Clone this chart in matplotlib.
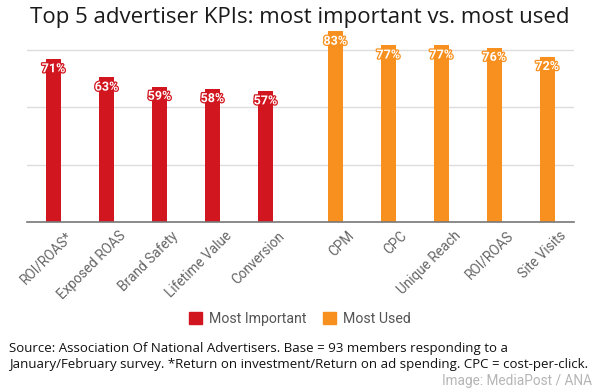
import matplotlib.pyplot as plt
import matplotlib.patheffects as pe
import matplotlib.transforms as mtrans
from matplotlib.patches import Patch

# data
important_labels = ["ROI/ROAS*", "Exposed ROAS", "Brand Safety", "Lifetime Value", "Conversion"]
important_values = [71, 63, 59, 58, 57]
used_labels = ["CPM", "CPC", "Unique Reach", "ROI/ROAS", "Site Visits"]
used_values = [83, 77, 77, 76, 72]

red = "#d1161f"
orange = "#f7901e"

fig = plt.figure(figsize=(6, 3.9), dpi=100)
ax = fig.add_axes([0.045, 0.431, 0.912, 0.5])

gap = 0.32  # extra space between the two groups
x_imp = list(range(len(important_values)))
x_used = [len(important_values) + gap + i for i in range(len(used_values))]

w = 0.28
b1 = ax.bar(x_imp, important_values, width=w, color=red, zorder=3)
b2 = ax.bar(x_used, used_values, width=w, color=orange, zorder=3)

for bars, vals, col in [(b1, important_values, red), (b2, used_values, orange)]:
    for bar, v in zip(bars, vals):
        ax.annotate(f"{v}%", (bar.get_x() + bar.get_width() / 2, v),
                    xytext=(0, -7), textcoords="offset points",
                    ha="center", va="center", fontsize=9, fontweight="bold",
                    color="white", family="Roboto", zorder=4,
                    path_effects=[pe.withStroke(linewidth=1.8, foreground=col)])

ax.set_xlim(-0.5, 9.83)
ax.set_ylim(0, 85)
ax.set_yticks([25, 50, 75])
ax.set_yticklabels([])
ax.tick_params(axis="y", length=0)
ax.grid(axis="y", color="#dddddd", linewidth=1, zorder=0)

ax.set_xticks(x_imp + x_used)
ax.set_xticklabels(important_labels + used_labels, rotation=45, ha="right",
                   rotation_mode="anchor", fontsize=9.8, color="#666666", family="Roboto")
ax.tick_params(axis="x", length=0, pad=5)
shift = mtrans.ScaledTranslation(12 / 100, 0, fig.dpi_scale_trans)
for lab in ax.get_xticklabels():
    lab.set_transform(lab.get_transform() + shift)

for s in ["top", "right", "left"]:
    ax.spines[s].set_visible(False)
ax.spines["bottom"].set_color("#777777")
ax.spines["bottom"].set_linewidth(1.2)
ax.spines["bottom"].set_zorder(5)

fig.text(0.5, 0.955, "Top 5 advertiser KPIs: most important vs. most used",
         ha="center", va="center", fontsize=16, color="#1a1a1a", family="Open Sans")

handles = [Patch(color=red, label="Most Important"), Patch(color=orange, label="Most Used")]
fig.legend(handles=handles, loc="center", bbox_to_anchor=(0.5, 0.183), ncol=2,
           frameon=False, handlelength=0.9, handleheight=0.9, handletextpad=0.5,
           columnspacing=1.2, prop={"family": "Roboto", "size": 10.2}, labelcolor="#555555")

fig.text(0.015, 0.087, "Source: Association Of National Advertisers. Base = 93 members responding to a\n"
         "January/February survey. *Return on investment/Return on ad spending. CPC = cost-per-click.",
         ha="left", va="center", fontsize=9.5, color="#111111", family="Open Sans", linespacing=1.3)

fig.text(0.987, 0.023, "Image: MediaPost / ANA", ha="right", va="center",
         fontsize=9.8, color="#b5b5b5", family="Roboto")

fig.savefig("out.png", dpi=100)
